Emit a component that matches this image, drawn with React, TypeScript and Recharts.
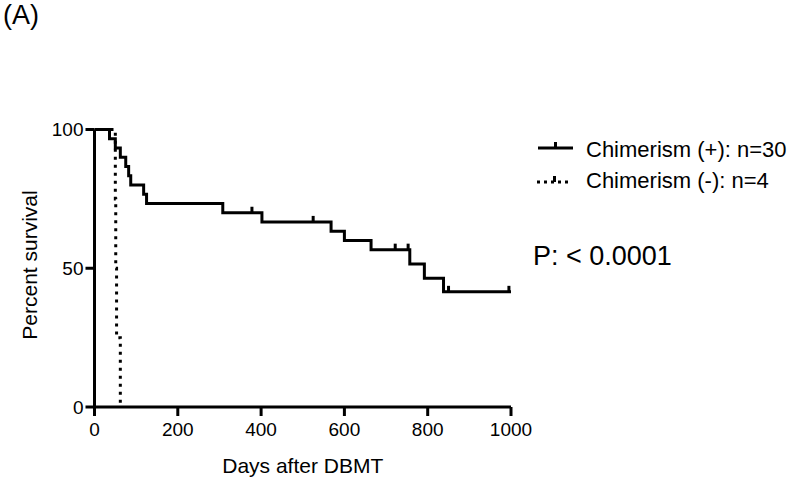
import React from 'react';
import { ComposedChart, Line, Scatter, XAxis, YAxis, Label } from 'recharts';

const FONT = '"Liberation Sans", Arial, Helvetica, sans-serif';

// Chimerism (+): n=30 — Kaplan-Meier steps
const plusDays = [0, 36, 50, 62, 75, 82, 87, 118, 125, 308, 402, 568, 600, 664, 757, 792, 838, 1000];
const plusPct = [100, 96.7, 93.3, 90, 86.7, 83.3, 80, 76.7, 73.3, 70, 66.7, 63.3, 60, 56.7, 51.5, 46.4, 41.5, 41.5];

// Censored observations, Chimerism (+)
const censorDays = [378, 525, 722, 753, 850, 995];
const censorPct = [70, 66.7, 56.7, 56.7, 41.5, 41.5];

// Chimerism (-): n=4
const minusDays = [0, 50, 51, 53, 62];
const minusPct = [100, 75, 50, 25, 0];

const xTicks = [0, 200, 400, 600, 800, 1000];
const yTicks = [0, 50, 100];

const toRows = (d: number[], p: number[]) => d.map((day, i) => ({ day, pct: p[i] }));
const plusData = toRows(plusDays, plusPct);
const minusData = toRows(minusDays, minusPct);
const censorData = toRows(censorDays, censorPct);

const CensorTick = (props: any) => {
  const { cx, cy } = props;
  if (cx == null || cy == null) return <g />;
  return <rect x={cx - 1.5} y={cy - 6} width={3} height={7} fill="#000" />;
};

const Overlay = () => (
  <svg
    width={800}
    height={482}
    style={{ position: 'absolute', left: 0, top: 0, overflow: 'visible', pointerEvents: 'none' }}
    fontFamily={FONT}
  >
    <text x={3} y={24} fontSize={27} fill="#000">(A)</text>
    <line x1={538} x2={573} y1={148} y2={148} stroke="#000" strokeWidth={3} />
    <rect x={554} y={142} width={3} height={6} fill="#000" />
    <text x={586} y={157} fontSize={22} fill="#000">Chimerism (+): n=30</text>
    <line x1={537} x2={568} y1={182} y2={182} stroke="#000" strokeWidth={3} strokeDasharray="3 4" />
    <rect x={553} y={176} width={3} height={6} fill="#000" />
    <text x={586} y={188} fontSize={22} fill="#000">Chimerism (-): n=4</text>
    <text x={533} y={265} fontSize={27} fill="#000">P: &lt; 0.0001</text>
  </svg>
);

export default function App() {
  return (
    <div style={{ position: 'absolute', left: 0, top: 0, width: 800, height: 482, fontFamily: FONT, background: '#fff' }}>
      <ComposedChart
        width={800}
        height={482}
        margin={{ top: 129.5, right: 289, bottom: 45, left: 54.5 }}
      >
        <XAxis
          dataKey="day"
          type="number"
          domain={[0, 1000]}
          ticks={xTicks}
          allowDataOverflow
          height={30}
          axisLine={{ stroke: '#000', strokeWidth: 3 }}
          tickLine={{ stroke: '#000', strokeWidth: 3 }}
          tickSize={9}
          tickMargin={7}
          tick={{ fill: '#000', fontSize: 19, fontFamily: FONT }}
        >
          <Label
            content={(p: any) => {
              const vb = p.viewBox || { x: 94.5, width: 416.5, y: 407 };
              return (
                <text x={vb.x + vb.width / 2} y={473} textAnchor="middle" fontSize={21} fill="#000" fontFamily={FONT}>
                  Days after DBMT
                </text>
              );
            }}
          />
        </XAxis>
        <YAxis
          dataKey="pct"
          type="number"
          domain={[0, 100]}
          ticks={yTicks}
          width={40}
          axisLine={{ stroke: '#000', strokeWidth: 3 }}
          tickLine={{ stroke: '#000', strokeWidth: 3 }}
          tickSize={9}
          tick={{ fill: '#000', fontSize: 19, fontFamily: FONT }}
        >
          <Label
            content={() => (
              <text
                x={37}
                y={265}
                transform="rotate(-90, 37, 265)"
                textAnchor="middle"
                fontSize={21}
                fill="#000"
                fontFamily={FONT}
              >
                Percent survival
              </text>
            )}
          />
        </YAxis>
        <Line
          data={minusData}
          dataKey="pct"
          type="stepAfter"
          stroke="#000"
          strokeWidth={3}
          strokeDasharray="3 5"
          dot={false}
          activeDot={false}
          isAnimationActive={false}
        />
        <Line
          data={plusData}
          dataKey="pct"
          type="stepAfter"
          stroke="#000"
          strokeWidth={3}
          dot={false}
          activeDot={false}
          isAnimationActive={false}
        />
        <Scatter data={censorData} dataKey="pct" shape={CensorTick} isAnimationActive={false} />
      </ComposedChart>
      <Overlay />
    </div>
  );
}
